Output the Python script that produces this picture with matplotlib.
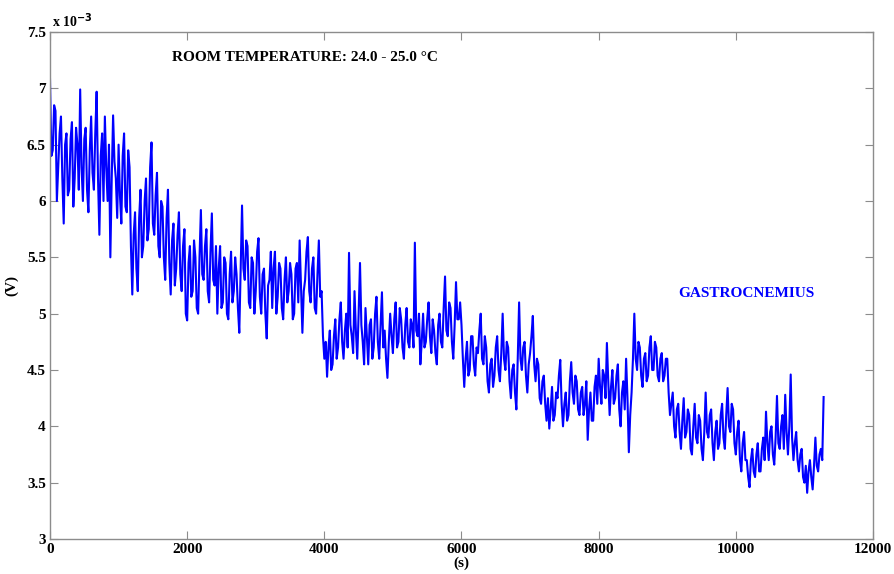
import numpy as np
import matplotlib
matplotlib.use("Agg")
from matplotlib import pyplot as plt

# signal, in mV (axis shows x 10^-3 V), one value every 20 s
step_s = 20
volts_mv = [
    7.08, 6.4, 6.45, 6.85, 6.8, 6.0, 6.3, 6.6, 6.75, 6.2, 5.8, 6.5, 6.6, 6.05, 6.1, 6.55, 6.7, 5.95, 6.2, 6.65,
    6.5, 6.1, 6.99, 6.3, 6.0, 6.55, 6.65, 6.1, 5.9, 6.45, 6.75, 6.25, 6.1, 6.6, 6.97, 6.2, 5.7, 6.4, 6.6, 6.0,
    6.75, 6.3, 6.0, 6.5, 5.5, 6.2, 6.76, 6.35, 6.2, 5.85, 6.5, 6.05, 5.8, 6.4, 6.6, 5.95, 5.9, 6.45, 6.3, 5.6,
    5.17, 5.7, 5.9, 5.4, 5.2, 5.85, 6.1, 5.5, 5.6, 6.0, 6.2, 5.65, 5.75, 6.3, 6.52, 5.8, 5.7, 6.05, 6.25, 5.6,
    5.5, 6.0, 5.95, 5.5, 5.3, 5.85, 6.1, 5.45, 5.17, 5.65, 5.8, 5.25, 5.4, 5.7, 5.9, 5.35, 5.2, 5.6, 5.75, 5.0,
    4.94, 5.45, 5.6, 5.15, 5.2, 5.65, 5.5, 5.05, 5.0, 5.5, 5.92, 5.35, 5.3, 5.6, 5.75, 5.2, 5.1, 5.55, 5.89, 5.3,
    5.25, 5.6, 5.0, 5.4, 5.6, 5.05, 5.1, 5.5, 5.45, 5.0, 4.95, 5.35, 5.55, 5.1, 5.2, 5.5, 5.35, 5.05, 4.83, 5.4,
    5.96, 5.4, 5.3, 5.65, 5.6, 5.1, 5.05, 5.5, 5.45, 5.0, 5.2, 5.55, 5.67, 5.15, 5.0, 5.35, 5.4, 5.0, 4.78, 5.25,
    5.3, 5.55, 5.05, 5.4, 5.55, 5.0, 5.15, 5.45, 5.4, 5.05, 4.95, 5.3, 5.5, 5.1, 5.2, 5.45, 5.35, 4.95, 5.0, 5.4,
    5.45, 5.1, 5.65, 5.25, 4.83, 5.2, 5.3, 5.55, 5.68, 5.2, 5.1, 5.4, 5.5, 5.05, 5.0, 5.35, 5.65, 5.15, 5.2, 4.8,
    4.6, 4.75, 4.44, 4.7, 4.85, 4.5, 4.55, 4.8, 4.95, 4.6, 4.7, 4.95, 5.1, 4.75, 4.6, 4.85, 5.0, 4.7, 5.54, 4.9,
    4.8, 4.65, 5.2, 4.85, 4.6, 5.0, 5.45, 4.9, 4.75, 4.55, 5.05, 4.8, 4.55, 4.9, 4.95, 4.6, 4.7, 5.0, 5.15, 4.75,
    4.6, 4.9, 5.19, 4.7, 4.85, 4.6, 4.43, 4.75, 5.0, 4.8, 4.65, 4.95, 5.1, 4.7, 4.75, 5.05, 4.95, 4.7, 4.6, 4.9,
    5.05, 4.75, 4.7, 4.95, 4.9, 4.7, 5.63, 4.85, 4.8, 5.0, 4.55, 4.75, 5.0, 4.7, 4.75, 4.95, 5.1, 4.8, 4.65, 4.95,
    4.85, 4.65, 4.55, 4.9, 5.0, 4.75, 4.7, 5.05, 5.33, 4.85, 4.8, 5.1, 5.05, 4.75, 4.6, 4.9, 5.28, 4.95, 4.95, 5.1,
    4.9, 4.6, 4.35, 4.6, 4.75, 4.45, 4.5, 4.8, 4.8, 4.55, 4.45, 4.7, 4.65, 4.85, 5.0, 4.6, 4.55, 4.8, 4.7, 4.4,
    4.3, 4.55, 4.6, 4.35, 4.45, 4.7, 4.8, 4.5, 4.4, 4.65, 5.0, 4.6, 4.5, 4.75, 4.7, 4.4, 4.25, 4.5, 4.55, 4.3,
    4.15, 4.6, 5.1, 4.6, 4.5, 4.7, 4.75, 4.45, 4.3, 4.55, 4.65, 4.8, 4.98, 4.55, 4.4, 4.6, 4.55, 4.25, 4.2, 4.4,
    4.45, 4.2, 4.05, 4.25, 3.98, 4.15, 4.35, 4.05, 4.1, 4.3, 4.25, 4.45, 4.59, 4.2, 4.0, 4.2, 4.3, 4.05, 4.1, 4.4,
    4.57, 4.3, 4.2, 4.45, 4.4, 4.15, 4.1, 4.3, 4.35, 4.1, 4.2, 4.4, 3.88, 4.15, 4.3, 4.05, 4.05, 4.35, 4.45, 4.2,
    4.6, 4.35, 4.2, 4.5, 4.45, 4.25, 4.74, 4.4, 4.1, 4.35, 4.5, 4.2, 4.25, 4.45, 4.55, 4.15, 4.0, 4.3, 4.4, 4.15,
    4.6, 4.25, 3.77, 4.1, 4.3, 4.6, 5.0, 4.6, 4.5, 4.75, 4.7, 4.45, 4.35, 4.6, 4.65, 4.4, 4.45, 4.7, 4.8, 4.5,
    4.5, 4.75, 4.7, 4.45, 4.4, 4.6, 4.65, 4.4, 4.45, 4.6, 4.6, 4.3, 4.1, 4.2, 4.3, 4.0, 3.9, 4.15, 4.2, 3.95,
    3.8, 4.05, 4.25, 3.9, 3.95, 4.15, 4.1, 3.8, 3.75, 4.0, 4.2, 3.9, 3.85, 4.1, 4.05, 3.8, 3.7, 3.95, 4.3, 3.95,
    3.9, 4.1, 4.15, 3.85, 3.7, 3.95, 4.05, 3.8, 3.85, 4.1, 4.2, 3.9, 3.8, 4.1, 4.34, 4.0, 3.95, 4.2, 4.15, 3.85,
    3.75, 3.95, 4.05, 3.7, 3.6, 3.85, 3.95, 3.7, 3.7, 3.55, 3.46, 3.7, 3.8, 3.6, 3.55, 3.75, 3.85, 3.6, 3.6, 3.8,
    3.9, 3.7, 4.13, 3.85, 3.7, 3.95, 4.0, 3.75, 3.66, 3.9, 4.27, 3.85, 3.8, 4.0, 4.1, 3.8, 4.28, 3.95, 3.75, 4.0,
    4.46, 3.9, 3.7, 3.85, 3.95, 3.7, 3.6, 3.75, 3.8, 3.55, 3.5, 3.65, 3.41, 3.6, 3.7, 3.55, 3.44, 3.65, 3.9, 3.65,
    3.6, 3.75, 3.8, 3.7, 4.26,
]
time_s = np.arange(len(volts_mv)) * step_s

x_ticks = [0, 2000, 4000, 6000, 8000, 10000, 12000]
y_ticks = [3, 3.5, 4, 4.5, 5, 5.5, 6, 6.5, 7, 7.5]

plt.rcParams['font.family'] = ['Liberation Serif', 'DejaVu Serif']
plt.rcParams['font.weight'] = 'bold'

fig = plt.figure(figsize=(8.95, 5.74), dpi=100)
ax = fig.add_axes([50 / 895, 35 / 574, 823 / 895, 507 / 574])

ax.plot(time_s, volts_mv, color='#0000ff', lw=1.5)

ax.set_xlim(0, 12000)
ax.set_ylim(3, 7.5)
ax.set_xticks(x_ticks)
ax.set_xticklabels([str(t) for t in x_ticks])
ax.set_yticks(y_ticks)
ax.set_yticklabels(['%g' % v for v in y_ticks])

grey = '#8c8c8c'
for s in ax.spines.values():
    s.set_color(grey)
    s.set_linewidth(1.0)
ax.tick_params(direction='in', length=6, width=0.8, color=grey,
               top=True, right=True, labelsize=11, pad=3)

ax.set_xlabel('(s)', fontsize=11, fontweight='bold', labelpad=0)
ax.set_ylabel('(V)', fontsize=11, fontweight='bold', labelpad=6)

ax.text(0.003, 1.003, r'x 10$^{\mathbf{-3}}$', transform=ax.transAxes,
        fontsize=10, fontweight='bold', ha='left', va='bottom')

ax.text(1780, 7.27, 'ROOM TEMPERATURE: 24.0 - 25.0 \u00b0C', fontsize=11,
        fontweight='bold', ha='left', va='center')
ax.text(9155, 5.18, 'GASTROCNEMIUS', fontsize=11, fontweight='bold',
        color='#0000ff', ha='left', va='center')

fig.savefig('out.png', dpi=100)
